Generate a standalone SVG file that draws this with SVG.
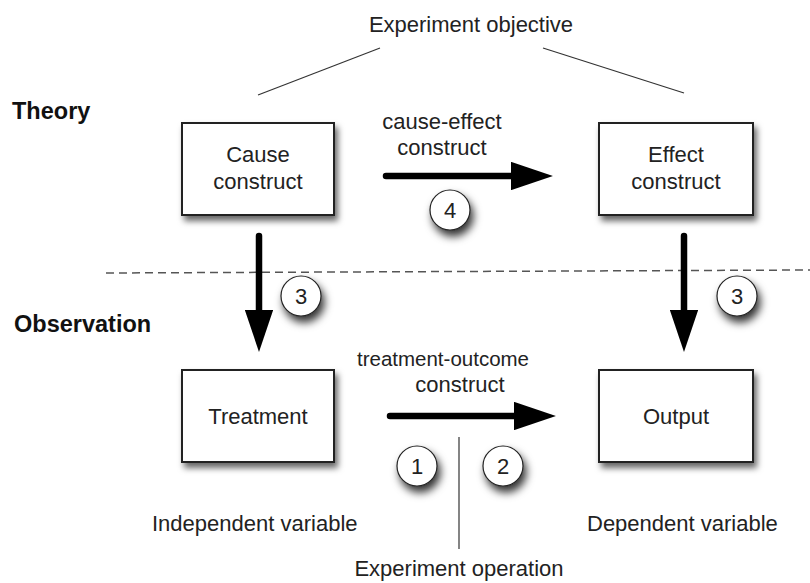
<svg xmlns="http://www.w3.org/2000/svg" width="810" height="583" viewBox="0 0 810 583">
<defs>
<style>
text{font-family:"Liberation Sans",Arial,sans-serif;fill:#222;}
.t{font-size:22px;}
.c{text-anchor:middle;}
.b{font-size:23.5px;font-weight:bold;fill:#111;}
.box{fill:#fff;stroke:#222;stroke-width:2;}
.arr{stroke:#000;stroke-width:6.5;stroke-linecap:round;fill:none;}
.circ{fill:#fff;stroke:#222;stroke-width:1.2;}
.thin{stroke:#333;stroke-width:1.2;fill:none;}
</style>
<filter id="sh" x="-20%" y="-20%" width="150%" height="160%">
<feDropShadow dx="3" dy="5" stdDeviation="3" flood-color="#000" flood-opacity="0.6"/>
</filter>
<filter id="csh" x="-50%" y="-50%" width="220%" height="230%">
<feDropShadow dx="3" dy="6" stdDeviation="4" flood-color="#000" flood-opacity="0.8"/>
</filter>
<marker id="ah" markerWidth="6.5" markerHeight="4.4" refX="0.2" refY="2.2" orient="auto" markerUnits="strokeWidth">
<path d="M0,0 L6.5,2.2 L0,4.4 z" fill="#000"/>
</marker>
</defs>
<rect width="810" height="583" fill="#fff"/>

<text class="t c" x="471" y="32">Experiment objective</text>
<line class="thin" x1="380" y1="48" x2="258" y2="95"/>
<line class="thin" x1="543" y1="48" x2="684" y2="93"/>

<text class="b" x="12" y="119">Theory</text>
<text class="b" x="14" y="332">Observation</text>

<line x1="106" y1="273" x2="810" y2="270" stroke="#555" stroke-width="1.5" stroke-dasharray="8,5"/>

<g id="cause">
<rect class="box" x="182" y="123" width="152" height="92" filter="url(#sh)"/>
<text class="t c" x="258" y="162">Cause</text>
<text class="t c" x="258" y="189">construct</text>
</g>
<g id="effect">
<rect class="box" x="599" y="123" width="154" height="92" filter="url(#sh)"/>
<text class="t c" x="676" y="162">Effect</text>
<text class="t c" x="676" y="189">construct</text>
</g>
<g id="treatment">
<rect class="box" x="182" y="370" width="152" height="92" filter="url(#sh)"/>
<text class="t c" x="258" y="424">Treatment</text>
</g>
<g id="output">
<rect class="box" x="599" y="370" width="154" height="92" filter="url(#sh)"/>
<text class="t c" x="676" y="424">Output</text>
</g>

<g id="connectors">
<line class="arr" x1="386" y1="176" x2="512" y2="176" marker-end="url(#ah)"/>
<line class="arr" x1="259" y1="236" x2="259" y2="311" marker-end="url(#ah)"/>
<line class="arr" x1="684" y1="236" x2="684" y2="311" marker-end="url(#ah)"/>
<line class="arr" x1="390" y1="416" x2="515" y2="416" marker-end="url(#ah)"/>
<line class="thin" x1="459" y1="437" x2="459" y2="549"/>
</g>

<text class="t c" x="442" y="129">cause-effect</text>
<text class="t c" x="442" y="155">construct</text>
<text class="t c" x="443" y="366" style="font-size:20.5px">treatment-outcome</text>
<text class="t c" x="460" y="392">construct</text>

<g id="c4"><circle class="circ" cx="450" cy="210" r="20" filter="url(#csh)"/><text class="t c" x="450" y="218">4</text></g>
<g id="c3a"><circle class="circ" cx="301" cy="296" r="20" filter="url(#csh)"/><text class="t c" x="301" y="304">3</text></g>
<g id="c3b"><circle class="circ" cx="737" cy="296" r="20" filter="url(#csh)"/><text class="t c" x="737" y="304">3</text></g>
<g id="c1"><circle class="circ" cx="417" cy="466" r="20" filter="url(#csh)"/><text class="t c" x="417" y="474">1</text></g>
<g id="c2"><circle class="circ" cx="503" cy="466" r="20" filter="url(#csh)"/><text class="t c" x="503" y="474">2</text></g>

<text class="t" x="152" y="531">Independent variable</text>
<text class="t" x="587" y="531">Dependent variable</text>
<text class="t c" x="459" y="576">Experiment operation</text>
</svg>
